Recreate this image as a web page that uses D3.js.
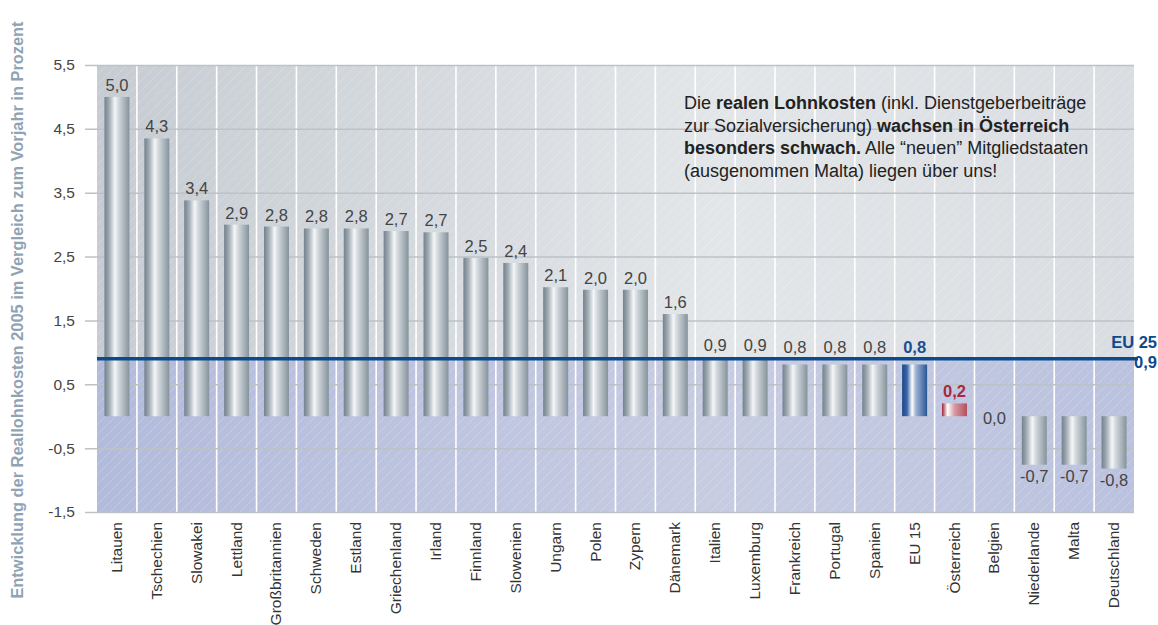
<!DOCTYPE html>
<html>
<head>
<meta charset="utf-8">
<script src="https://cdn.jsdelivr.net/npm/d3@7"></script>
<style>
  body { margin: 0; background: #fff; }
  svg { display: block; font-family: "Liberation Sans", Arial, sans-serif; }
</style>
</head>
<body>
<svg id="chart" width="1158" height="625"></svg>
<script>
// data
var categories = ["Litauen", "Tschechien", "Slowakei", "Lettland", "Großbritannien", "Schweden",
  "Estland", "Griechenland", "Irland", "Finnland", "Slowenien", "Ungarn", "Polen", "Zypern",
  "Dänemark", "Italien", "Luxemburg", "Frankreich", "Portugal", "Spanien", "EU 15", "Österreich",
  "Belgien", "Niederlande", "Malta", "Deutschland"];
// bar heights as drawn
var values = [5.0, 4.35, 3.38, 3.0, 2.97, 2.94, 2.94, 2.9, 2.88, 2.48, 2.4, 2.02, 1.98, 1.98,
  1.6, 0.92, 0.92, 0.81, 0.81, 0.81, 0.81, 0.2, 0, -0.76, -0.76, -0.82];
// printed labels
var valueLabels = ["5,0", "4,3", "3,4", "2,9", "2,8", "2,8", "2,8", "2,7", "2,7", "2,5", "2,4",
  "2,1", "2,0", "2,0", "1,6", "0,9", "0,9", "0,8", "0,8", "0,8", "0,8", "0,2", "0,0",
  "-0,7", "-0,7", "-0,8"];
var yTicks = [5.5, 4.5, 3.5, 2.5, 1.5, 0.5, -0.5, -1.5];
var eu25 = 0.9;
var eu25Label = "0,9";

var margin = {top: 65, right: 24, bottom: 113, left: 97},
    width = 1158 - margin.left - margin.right,
    height = 625 - margin.top - margin.bottom;

var svg = d3.select("#chart");
var defs = svg.append("defs");

// bar gradients (cylinder look)
function barGrad(id, stops) {
  var g = defs.append("linearGradient").attr("id", id)
    .attr("x1", "0").attr("x2", "1").attr("y1", "0").attr("y2", "0");
  stops.forEach(function(s) {
    g.append("stop").attr("offset", s[0]).attr("stop-color", s[1]);
  });
}
barGrad("gGray", [[0, "#74818b"], [0.2, "#a3aeb6"], [0.42, "#f5f7f8"], [0.55, "#d5dbdf"], [1, "#85929b"]]);
barGrad("gBlue", [[0, "#17468a"], [0.2, "#3d68a8"], [0.4, "#ffffff"], [0.55, "#9db2d3"], [1, "#2a5696"]]);
barGrad("gRed", [[0, "#9c2234"], [0.22, "#ffffff"], [0.5, "#d69aa2"], [1, "#b24e5c"]]);
barGrad("bgTop", [[0, "#c6ccd2"], [0.6, "#e3e6e9"], [1, "#d9dde1"]]);
barGrad("bgBottom", [[0, "#b3bbdb"], [0.6, "#c7cce1"], [1, "#bbc2de"]]);

var hatch = defs.append("pattern").attr("id", "hatch")
  .attr("patternUnits", "userSpaceOnUse").attr("width", 10).attr("height", 10);
hatch.append("path").attr("d", "M-2,2 l4,-4 M0,10 l10,-10 M8,12 l4,-4")
  .attr("stroke", "#fff").attr("stroke-opacity", 0.25).attr("stroke-width", 0.8);

var g = svg.append("g").attr("transform", "translate(" + margin.left + "," + margin.top + ")");

var x = d3.scaleBand().domain(categories).range([0, width]).padding(0);
var y = d3.scaleLinear().domain([-1.5, 5.5]).range([height, 0]);
var comma = d3.formatLocale({decimal: ",", thousands: ".", grouping: [3], currency: ["", "€"], minus: "-"}).format(".1f");

// background: grey above EU 25 line, blue below
g.append("rect").attr("x", 0).attr("y", 0).attr("width", width).attr("height", y(eu25))
  .attr("fill", "url(#bgTop)");
g.append("rect").attr("x", 0).attr("y", y(eu25)).attr("width", width).attr("height", height - y(eu25))
  .attr("fill", "url(#bgBottom)");
g.append("rect").attr("width", width).attr("height", height).attr("fill", "url(#hatch)");

// column separators
g.selectAll(".sep").data(categories.slice(1)).enter().append("line")
  .attr("class", "sep")
  .attr("x1", function(d) { return x(d); }).attr("x2", function(d) { return x(d); })
  .attr("y1", 0).attr("y2", height)
  .attr("stroke", "#fff").attr("stroke-width", 1.6);

// y axis with gridlines
var yAxis = d3.axisLeft(y).tickValues(yTicks).tickSize(-(width + 12)).tickPadding(10)
  .tickFormat(comma);
var ya = g.append("g").attr("transform", "translate(-12,0)").call(yAxis);
ya.select(".domain").remove();
ya.selectAll(".tick line").attr("stroke", "#bcc2c7").attr("stroke-width", 1.5);
ya.selectAll(".tick text").attr("fill", "#444").style("font-size", "15.5px")
  .style("font-family", "'Liberation Sans', Arial, sans-serif");

// bars
var barW = 25;
function barFill(d) {
  if (d === "EU 15") return "url(#gBlue)";
  if (d === "Österreich") return "url(#gRed)";
  return "url(#gGray)";
}
g.selectAll(".bar").data(categories).enter().append("rect")
  .attr("class", "bar")
  .attr("x", function(d) { return x(d) + (x.bandwidth() - barW) / 2; })
  .attr("width", barW)
  .attr("y", function(d, i) { return y(Math.max(0, values[i])); })
  .attr("height", function(d, i) { return Math.abs(y(values[i]) - y(0)); })
  .attr("fill", barFill);

// value labels (lifted above the EU 25 line when they would touch it)
g.selectAll(".val").data(categories).enter().append("text")
  .attr("class", "val")
  .attr("x", function(d) { return x(d) + x.bandwidth() / 2; })
  .attr("y", function(d, i) {
    var v = values[i];
    if (v > 0) return Math.min(y(v) - 6, v < eu25 + 0.3 && v > 0.5 ? y(eu25) - 6 : 1e9);
    if (v < 0) return y(v) + 17;
    return y(0) + 8;
  })
  .attr("text-anchor", "middle")
  .style("font-size", "16.5px")
  .style("font-weight", function(d) { return (d === "EU 15" || d === "Österreich") ? "bold" : "normal"; })
  .attr("fill", function(d) {
    if (d === "EU 15") return "#1b4f90";
    if (d === "Österreich") return "#a8283c";
    return "#444";
  })
  .text(function(d, i) { return valueLabels[i]; });

// EU 25 line
g.append("line").attr("x1", 0).attr("x2", width + 4)
  .attr("y1", y(eu25)).attr("y2", y(eu25))
  .attr("stroke", "#0d4a8c").attr("stroke-width", 3.5);
g.append("text").attr("x", width + margin.right - 1).attr("y", y(eu25) - 11)
  .attr("text-anchor", "end").attr("fill", "#0d4a8c")
  .style("font-size", "16.5px").style("font-weight", "bold").text("EU 25");
g.append("text").attr("x", width + margin.right - 1).attr("y", y(eu25) + 9)
  .attr("text-anchor", "end").attr("fill", "#0d4a8c")
  .style("font-size", "16.5px").style("font-weight", "bold").text(eu25Label);

// x labels (rotated)
g.selectAll(".xl").data(categories).enter().append("text")
  .attr("class", "xl")
  .attr("transform", function(d) {
    return "translate(" + (x(d) + x.bandwidth() / 2 + 5) + "," + (height + 10) + ") rotate(-90)";
  })
  .attr("text-anchor", "end")
  .attr("fill", "#333")
  .style("font-size", "15.5px")
  .text(function(d) { return d; });

// y axis title
svg.append("text")
  .attr("transform", "translate(23,310) rotate(-90)")
  .attr("text-anchor", "middle")
  .attr("fill", "#8fa3b5")
  .style("font-size", "16.4px").style("font-weight", "bold")
  .text("Entwicklung der Reallohnkosten 2005 im Vergleich zum Vorjahr in Prozent");

// annotation
var note = [
  [["Die ", false], ["realen Lohnkosten", true], [" (inkl. Dienstgeberbeiträge", false]],
  [["zur Sozialversicherung) ", false], ["wachsen in Österreich", true]],
  [["besonders schwach.", true], [" Alle “neuen” Mitgliedstaaten", false]],
  [["(ausgenommen Malta) liegen über uns!", false]]
];
var nt = svg.append("text").attr("x", 684).attr("y", 109)
  .attr("fill", "#222").style("font-size", "18px");
note.forEach(function(line, li) {
  line.forEach(function(part, pi) {
    var ts = nt.append("tspan").text(part[0])
      .style("font-weight", part[1] ? "bold" : "normal");
    if (pi === 0) ts.attr("x", 684).attr("dy", li === 0 ? 0 : 22.5);
  });
});
</script>
</body>
</html>
